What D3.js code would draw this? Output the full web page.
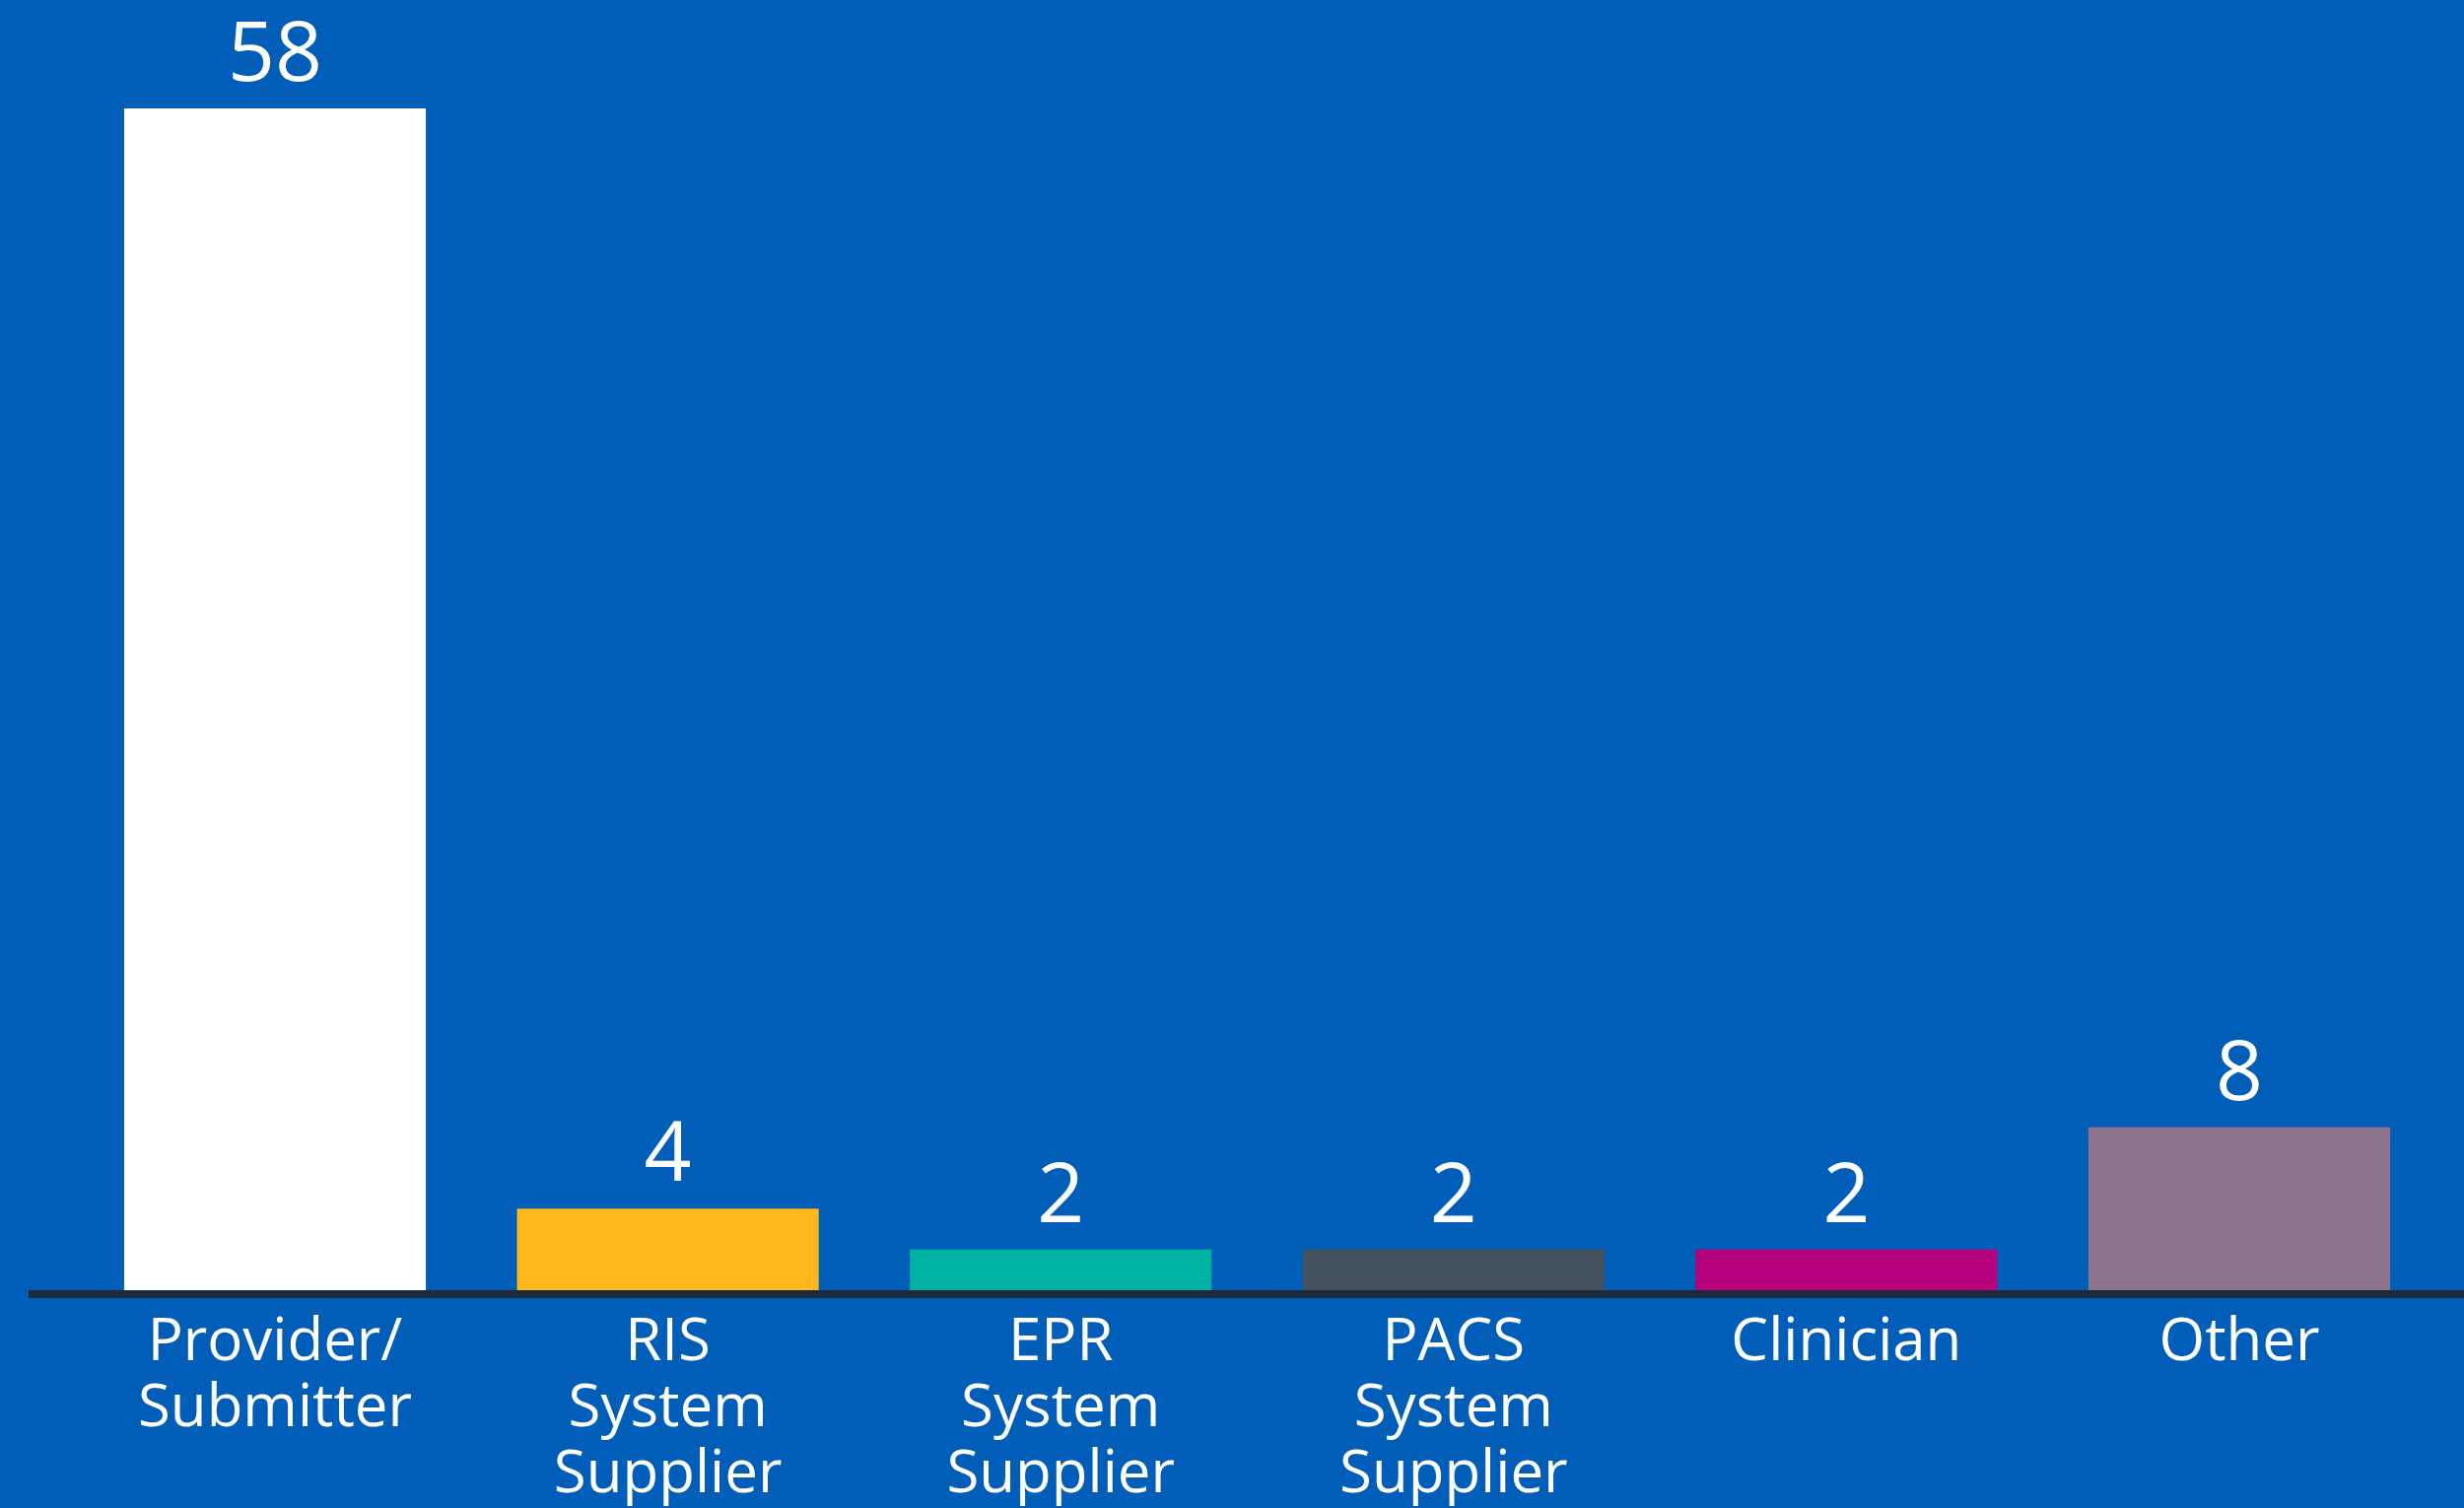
<!DOCTYPE html>
<html>
<head>
<meta charset="utf-8">
<script src="https://cdn.jsdelivr.net/npm/d3@7"></script>
<style>
  html, body { margin: 0; padding: 0; background: #005EB8; }
  svg { display: block; }
  .axis text { fill: #ffffff; font-family: "Open Sans", sans-serif; }
</style>
</head>
<body>
<svg id="mysvg"></svg>
<script>
const w = 2500, h = 1530;

const categories = ["Provider/Submitter", "RIS System Supplier", "EPR System Supplier",
    "PACS System Supplier", "Clinician", "Other"];
const tickLines = [
    ["Provider/", "Submitter"],
    ["RIS", "System", "Supplier"],
    ["EPR", "System", "Supplier"],
    ["PACS", "System", "Supplier"],
    ["Clinician"],
    ["Other"]
];
const values = [58, 4, 2, 2, 2, 8];
const colors = ["#FFFFFF", "#FFB81C", "#00B2A3", "#44525F", "#B7007E", "#8E7390"];

function drawBarChart(dataset) {
    d3.select("#mysvg").selectAll("*").remove();

    const svg = d3.select("#mysvg")
        .attr("width", w)
        .attr("height", h);

    svg.append("rect")
        .attr("width", w)
        .attr("height", h)
        .attr("fill", "#005EB8");

    const xScale = d3.scaleBand()
        .domain(categories)
        .range([79.7, 2471.3])
        .paddingInner(0.232)
        .paddingOuter(0.116);

    const yScale = d3.scaleLinear()
        .domain([0, 58])
        .range([1309, 110]);

    svg.selectAll(".bar")
        .data(dataset)
        .enter().append("rect")
        .attr("class", "bar")
        .attr("x", (d, i) => xScale(categories[i]))
        .attr("y", d => yScale(d))
        .attr("width", xScale.bandwidth())
        .attr("height", d => yScale(0) - yScale(d))
        .attr("fill", (d, i) => colors[i]);

    // value labels
    svg.selectAll(".value")
        .data(dataset)
        .enter().append("text")
        .attr("class", "value")
        .attr("x", (d, i) => xScale(categories[i]) + xScale.bandwidth() / 2)
        .attr("y", d => yScale(d) - 28)
        .attr("text-anchor", "middle")
        .attr("fill", "#ffffff")
        .style("font-family", "'Open Sans', sans-serif")
        .style("font-size", "84px")
        .text(d => d);

    // baseline
    svg.append("line")
        .attr("x1", 29)
        .attr("x2", w)
        .attr("y1", yScale(0) + 4)
        .attr("y2", yScale(0) + 4)
        .attr("stroke", "#1E2A3A")
        .attr("stroke-width", 8);

    // category axis, multi-line labels
    const xAxis = svg.append("g")
        .attr("class", "x axis")
        .attr("transform", "translate(0," + yScale(0) + ")")
        .call(d3.axisBottom(xScale).tickSize(0).tickFormat(""));

    xAxis.select(".domain").remove();

    xAxis.selectAll(".tick text")
        .attr("y", 0)
        .attr("dy", null)
        .style("font-size", "60px")
        .each(function(d, i) {
            const t = d3.select(this);
            tickLines[i].forEach((line, j) => {
                t.append("tspan")
                    .attr("x", 0)
                    .attr("y", 71 + j * 67)
                    .text(line);
            });
        });
}

drawBarChart(values);
</script>
</body>
</html>
